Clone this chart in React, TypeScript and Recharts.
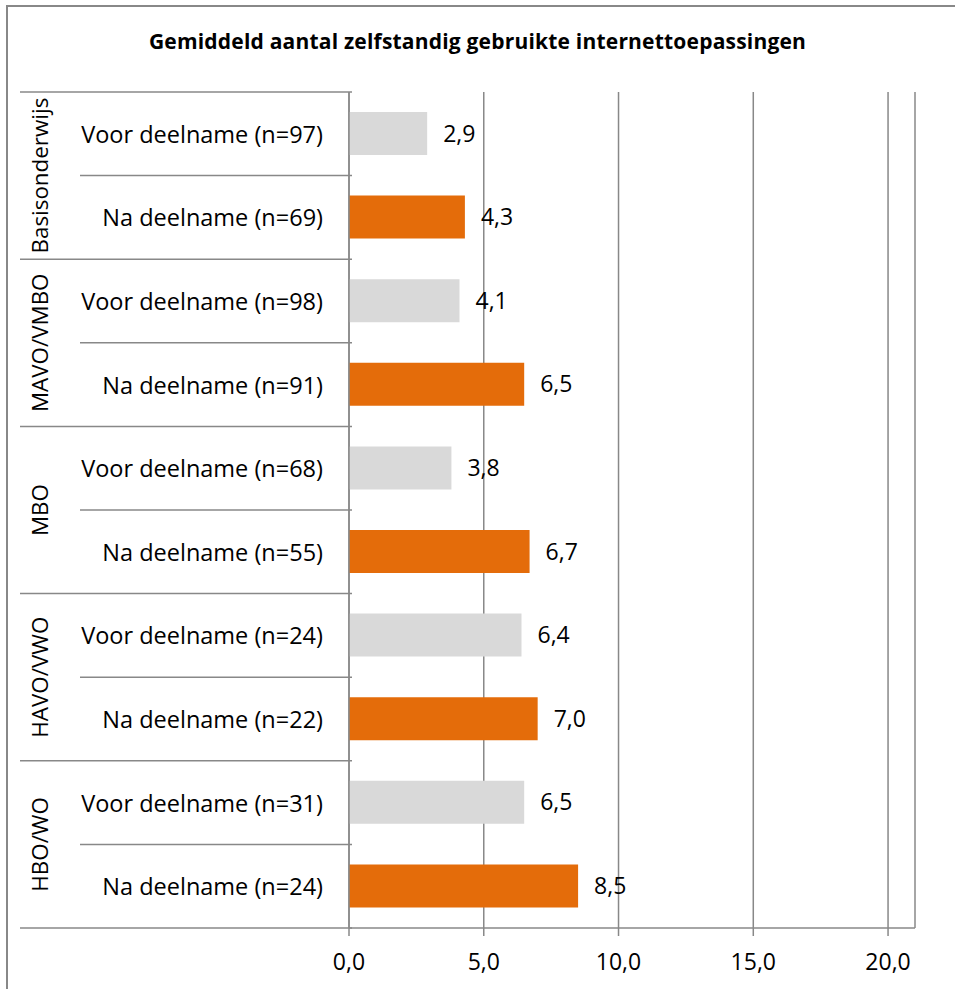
import React from "react";
import { BarChart, Bar, XAxis, YAxis, CartesianGrid, Cell, LabelList } from "recharts";

const groups = ["Basisonderwijs", "MAVO/VMBO", "MBO", "HAVO/VWO", "HBO/WO"];
const phases = ["Voor deelname", "Na deelname"];
const sampleSizes = [97, 69, 98, 91, 68, 55, 24, 22, 31, 24];
const means = [2.9, 4.3, 4.1, 6.5, 3.8, 6.7, 6.4, 7.0, 6.5, 8.5];
const xTicks = [0, 5, 10, 15, 20];
const phaseColors = ["#d9d9d9", "#e46c0a"];

const rows = means.map((mean, i) => ({
  key: String(i),
  group: groups[Math.floor(i / 2)],
  label: `${phases[i % 2]} (n=${sampleSizes[i]})`,
  phase: i % 2,
  mean,
}));

const W = 955;
const H = 989;
const M = { top: 92, right: 40, bottom: 0, left: 0 };
const X_AXIS_H = 61;
const AXIS_W = 349;
const BAND = (H - M.top - X_AXIS_H) / rows.length;
const LINE = "#888888";
const FONT = "'Open Sans', sans-serif";

const comma = (v: number) => v.toFixed(1).replace(".", ",");

function RowTick(props: any) {
  const { y, index } = props;
  const row = rows[index];
  if (!row) return null;
  const lower = y + BAND / 2;
  return (
    <g>
      <text x={323} y={y + 9} textAnchor="end" fontSize={23.5} fontFamily={FONT} fill="#000">
        {row.label}
      </text>
      {index === 0 && <line x1={20} x2={352} y1={y - BAND / 2} y2={y - BAND / 2} stroke={LINE} strokeWidth={1.5} />}
      <line x1={index % 2 === 0 ? 80 : 20} x2={352} y1={lower} y2={lower} stroke={LINE} strokeWidth={1.5} />
      {index % 2 === 0 && (
        <text
          x={48}
          y={lower}
          transform={`rotate(-90 48 ${lower})`}
          textAnchor="middle"
          fontSize={22.4}
          fontFamily={FONT}
          fill="#000"
        >
          {row.group}
        </text>
      )}
    </g>
  );
}

export default function App() {
  return (
    <div style={{ position: "absolute", left: 0, top: 0, width: W, height: H, background: "#fff", overflow: "hidden" }}>
      <div
        style={{
          position: "absolute",
          left: 6,
          top: 5,
          width: W,
          height: H,
          borderLeft: `2px solid ${LINE}`,
          borderTop: `2px solid ${LINE}`,
        }}
      />
      <div
        style={{
          position: "absolute",
          left: 0,
          width: W,
          top: 27,
          textAlign: "center",
          fontFamily: FONT,
          fontWeight: 700,
          fontSize: 21,
          lineHeight: "28px",
          letterSpacing: 0.2,
          color: "#000",
        }}
      >
        Gemiddeld aantal zelfstandig gebruikte internettoepassingen
      </div>
      <div style={{ position: "absolute", left: 0, top: 0 }}>
        <BarChart width={W} height={H} data={rows} layout="vertical" margin={M} barSize={43}>
          <CartesianGrid horizontal={false} stroke={LINE} strokeWidth={1.5} />
          <XAxis
            type="number"
            domain={[0, 21]}
            ticks={xTicks}
            tickFormatter={comma}
            height={X_AXIS_H}
            axisLine={{ stroke: LINE, strokeWidth: 1.5 }}
            tickLine={{ stroke: LINE, strokeWidth: 1.5 }}
            tickSize={8}
            tickMargin={18}
            tick={{ fontSize: 23, fontFamily: FONT, fill: "#000" }}
            interval={0}
          />
          <YAxis
            type="category"
            dataKey="key"
            width={AXIS_W}
            axisLine={{ stroke: LINE, strokeWidth: 1.5 }}
            tickLine={false}
            tick={<RowTick />}
            interval={0}
          />
          <Bar dataKey="mean" isAnimationActive={false}>
            {rows.map((r) => (
              <Cell key={r.key} fill={phaseColors[r.phase]} />
            ))}
            <LabelList
              dataKey="mean"
              position="right"
              offset={16}
              formatter={(v: any) => comma(Number(v))}
              style={{ fontSize: 23, fontFamily: FONT, fill: "#000" }}
            />
          </Bar>
        </BarChart>
      </div>
    </div>
  );
}
